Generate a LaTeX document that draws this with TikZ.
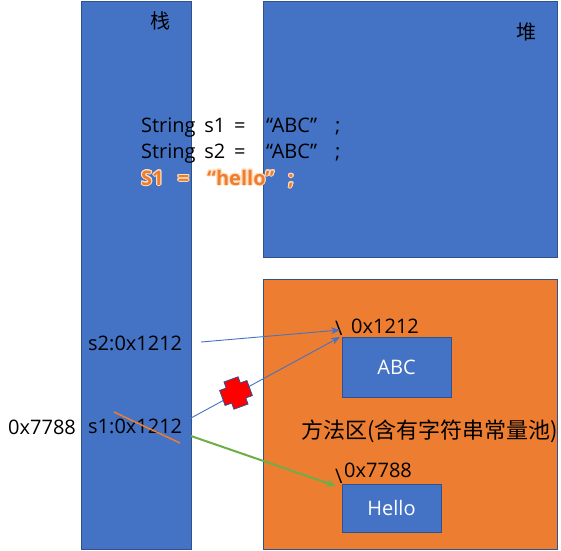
\documentclass[tikz,border=0pt]{standalone}
\usepackage{fontspec}
\setmainfont{Open Sans}
\newfontfamily\cjk{Noto Sans CJK SC}
\usepackage[copies]{contour}
\contourlength{1pt}
\contournumber{16}
\definecolor{pptblue}{HTML}{4472C4}
\definecolor{pptedge}{HTML}{2F528F}
\definecolor{pptorange}{HTML}{ED7D31}
\definecolor{pptgreen}{HTML}{70AD47}
\tikzset{
  box/.style={draw=pptedge,line width=0.8pt,outer sep=0pt,inner sep=0pt,anchor=north west},
  bluebox/.style={box,fill=pptblue},
  orangebox/.style={box,fill=pptorange},
  lbl/.style={inner sep=0pt,anchor=base west,font=\fontsize{20}{24}\selectfont},
  boldlbl/.style={lbl,font=\bfseries\fontsize{20}{24}\selectfont},
  arrowline/.style={draw=pptblue,line width=0.9pt,-{Stealth[length=9pt,width=7pt]}},
  greenline/.style={draw=pptgreen,line width=2pt,-{Stealth[length=10pt,width=8pt]}},
  strike/.style={draw=pptorange,line width=1.5pt},
}
\usetikzlibrary{arrows.meta}
\begin{document}
\begin{tikzpicture}[x=1pt,y=-1pt]
\useasboundingbox (0,0) rectangle (561,550);
\fill[white] (0,0) rectangle (561,550);
\node[bluebox,minimum width=110pt,minimum height=548pt] (stack) at (81,1) {};
\node[bluebox,minimum width=294pt,minimum height=256pt] (heap) at (263,1) {};
\node[orangebox,minimum width=294pt,minimum height=270pt] (method) at (263,279) {};
\node[bluebox,minimum width=109pt,minimum height=60pt,text=white,font=\fontsize{20}{24}\selectfont] (abc) at (342,337) {ABC};
\node[bluebox,minimum width=99pt,minimum height=48pt,text=white,font=\fontsize{20}{24}\selectfont] (hello) at (342,484) {Hello};
\node[lbl,font=\cjk\fontsize{20}{24}\selectfont] (zhan) at (150,28) {栈};
\node[lbl,font=\cjk\fontsize{20}{24}\selectfont] (dui) at (516,39) {堆};
\node[lbl] (code1a) at (141,132) {String\hspace{3.5pt} s1\hspace{3.5pt} =};
\node[lbl] (code1b) at (266,132) {“ABC”};
\node[lbl] (code1c) at (335,132) {;};
\node[lbl] (code2a) at (141,158) {String\hspace{3.5pt} s2\hspace{3.5pt} =};
\node[lbl] (code2b) at (266,158) {“ABC”};
\node[lbl] (code2c) at (335,158) {;};
\node[boldlbl] (code3a) at (141,185) {\contour{orange!25}{\textcolor{pptorange}{S1\hspace{9pt} =}}};
\node[boldlbl] (code3b) at (207,185) {\contour{orange!25}{\textcolor{pptorange}{“hello”}}};
\node[boldlbl] (code3c) at (288,185) {\contour{orange!25}{\textcolor{pptorange}{;}}};
\node[lbl] (s2) at (88,350) {s2:0x1212};
\node[lbl] (s1) at (88,433) {s1:0x1212};
\node[lbl] (addr) at (8,434) {0x7788};
\node[lbl] (a1) at (351,333) {0x1212};
\node[lbl] (a2) at (344,477) {0x7788};
\node[lbl] (bs1) at (335,335) {\textbackslash};
\node[lbl] (bs2) at (335,483) {\textbackslash};
\node[lbl,font=\cjk\fontsize{22}{26}\selectfont] (mname) at (301,438) {方法区(含有字符串常量池)};
\coordinate (s2out) at (201,342);
\coordinate (s2in) at (340,330);
\coordinate (s1out) at (191,418);
\coordinate (s1in) at (340,337);
\coordinate (s1g) at (191,436);
\coordinate (hin) at (336,486);
\coordinate (st1) at (114,412);
\coordinate (st2) at (180,443);
\draw[arrowline] (s2out) -- (s2in);
\draw[arrowline] (s1out) -- (s1in);
\draw[greenline] (s1g) -- (hin);
\draw[strike] (st1) -- (st2);
\draw[draw=pptedge,line width=0.8pt,fill=red,shift={(236,393)},rotate=20]
 (-7.5,-14.5)--(7.5,-14.5)--(7.5,-8)--(14.5,-8)--(14.5,8)--(7.5,8)--(7.5,14.5)--(-7.5,14.5)--(-7.5,8)--(-14.5,8)--(-14.5,-8)--(-7.5,-8)--cycle;
\end{tikzpicture}
\end{document}
